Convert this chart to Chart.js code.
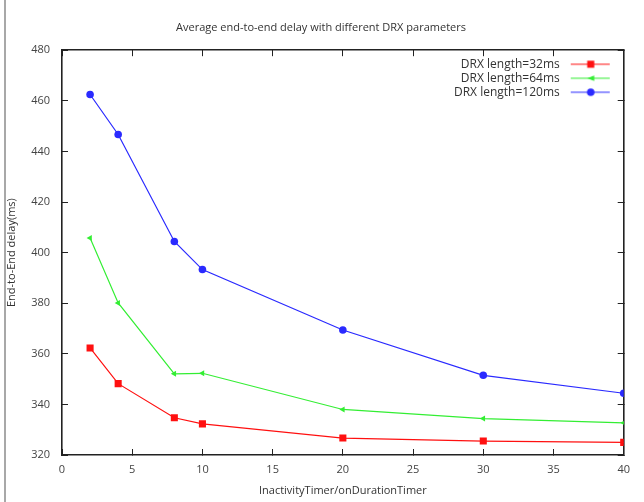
<!DOCTYPE html>
<html>
<head>
<meta charset="utf-8">
<script src="https://cdn.jsdelivr.net/npm/chart.js@4.4.1/dist/chart.umd.min.js"></script>
<style>
    html, body { margin: 0; padding: 0; background: #fff; }
    #wrap { position: relative; width: 644px; height: 502px; }
    #edge { position: absolute; left: 4px; top: 0; width: 2px; height: 502px; background: #a8a8a8; }
    canvas { position: absolute; left: 0; top: 0; }
</style>
</head>
<body>
<div id="wrap">
    <canvas id="delayChart" width="644" height="502"></canvas>
    <div id="edge"></div>
</div>
<script>
    // InactivityTimer/onDurationTimer values
    const timerValues = [2, 4, 8, 10, 20, 30, 40];

    // average end-to-end delay (ms) per DRX length
    const delay32 = [362.3, 348.2, 334.7, 332.3, 326.7, 325.5, 325.0];
    const delay64 = [405.8, 380.1, 352.1, 352.3, 338.0, 334.4, 332.7];
    const delay120 = [462.5, 446.7, 404.4, 393.3, 369.4, 351.5, 344.4];

    const seriesLabels = ['DRX length=32ms', 'DRX length=64ms', 'DRX length=120ms'];
    const xTicks = { min: 0, max: 40, step: 5 };
    const yTicks = { min: 320, max: 480, step: 20 };

    const fontFamily = "'Open Sans', 'DejaVu Sans', sans-serif";
    const colors = {
        red: '#ff1010',
        green: '#33ee33',
        blue: '#2a2aff',
        frame: '#222',
        text: '#444'
    };

    function toPoints(values) {
        return timerValues.map((t, i) => ({ x: t, y: values[i] }));
    }

    // legend sample: short line with the marker in the middle
    function legendSample(color, style, radius) {
        const c = document.createElement('canvas');
        c.width = 56;
        c.height = 12;
        const g = c.getContext('2d');
        g.strokeStyle = color;
        g.fillStyle = color;
        g.lineWidth = 1.2;
        g.beginPath();
        g.moveTo(5, 6);
        g.lineTo(44, 6);
        g.stroke();
        const cx = 25;
        g.beginPath();
        if (style === 'rect') {
            const s = radius * Math.SQRT1_2;
            g.rect(cx - s, 6 - s, s * 2, s * 2);
        } else if (style === 'triangle') {
            g.moveTo(cx - radius, 6);
            g.lineTo(cx + radius, 6 - radius * 0.8);
            g.lineTo(cx + radius, 6 + radius * 0.8);
            g.closePath();
        } else {
            g.arc(cx, 6, radius, 0, Math.PI * 2);
        }
        g.fill();
        return c;
    }

    // put the legend column inside the plot, top right
    const legendInPlot = {
        id: 'legendInPlot',
        afterLayout(chart) {
            const legend = chart.legend;
            const area = chart.chartArea;
            if (legend) {
                legend.left = area.left;
                legend.right = area.right;
                legend.width = area.right - area.left;
                legend.top = area.top;
                legend.bottom = area.bottom;
                legend.height = area.bottom - area.top;
            }
        }
    };

    const datasets = [
        { label: seriesLabels[0], data: toPoints(delay32), borderColor: colors.red, backgroundColor: colors.red, pointStyle: 'rect', pointRadius: 5 },
        { label: seriesLabels[1], data: toPoints(delay64), borderColor: colors.green, backgroundColor: colors.green, pointStyle: 'triangle', pointRadius: 3.5, pointRotation: -90 },
        { label: seriesLabels[2], data: toPoints(delay120), borderColor: colors.blue, backgroundColor: colors.blue, pointStyle: 'circle', pointRadius: 3.8 }
    ].map((ds) => Object.assign(ds, {
        borderWidth: 1.2,
        pointBorderWidth: 0,
        tension: 0,
        fill: false
    }));

    const samples = [
        legendSample(colors.red, 'rect', 5),
        legendSample(colors.green, 'triangle', 3.5),
        legendSample(colors.blue, 'circle', 3.8)
    ];

    // inward tick marks, frame drawn by the axis borders
    const frameGrid = { display: true, drawOnChartArea: false, drawTicks: true, tickLength: -6, color: colors.frame, lineWidth: 1 };
    const frameBorder = { display: true, color: colors.frame, width: 1.6 };
    const tickFont = { family: fontFamily, size: 11 };

    new Chart(document.getElementById('delayChart').getContext('2d'), {
        type: 'line',
        data: { datasets },
        plugins: [legendInPlot],
        options: {
            responsive: false,
            animation: false,
            layout: { padding: { top: 4, right: 2, bottom: 0, left: 0 } },
            plugins: {
                title: {
                    display: true,
                    text: 'Average end-to-end delay with different DRX parameters',
                    color: '#333',
                    font: { family: fontFamily, size: 11, weight: 'normal' },
                    padding: { top: 17, bottom: 16 }
                },
                legend: {
                    position: 'chartArea',
                    align: 'start',
                    rtl: true,
                    textDirection: 'ltr',
                    title: { display: true, text: '', font: { size: 5 }, padding: 0 },
                    labels: {
                        color: '#333',
                        font: { family: fontFamily, size: 12 },
                        usePointStyle: true,
                        pointStyleWidth: 56,
                        padding: 2,
                        generateLabels(chart) {
                            const items = Chart.defaults.plugins.legend.labels.generateLabels(chart);
                            items.forEach((item, i) => {
                                item.pointStyle = samples[i];
                                item.rotation = 0;
                            });
                            return items;
                        }
                    }
                },
                tooltip: { enabled: false }
            },
            scales: {
                x: {
                    type: 'linear',
                    position: 'bottom',
                    min: xTicks.min,
                    max: xTicks.max,
                    grid: frameGrid,
                    border: frameBorder,
                    ticks: { stepSize: xTicks.step, padding: 14, color: colors.text, font: tickFont },
                    title: {
                        display: true,
                        text: 'InactivityTimer/onDurationTimer',
                        color: '#333',
                        font: tickFont,
                        padding: { top: 4, bottom: 5 }
                    },
                    afterFit(scale) {
                        scale.height = 47;
                    }
                },
                x2: {
                    type: 'linear',
                    position: 'top',
                    min: xTicks.min,
                    max: xTicks.max,
                    grid: frameGrid,
                    border: frameBorder,
                    ticks: { stepSize: xTicks.step, display: false },
                    afterFit(scale) {
                        scale.height = 0;
                    }
                },
                y: {
                    type: 'linear',
                    position: 'left',
                    min: yTicks.min,
                    max: yTicks.max,
                    grid: frameGrid,
                    border: frameBorder,
                    ticks: { stepSize: yTicks.step, padding: 18, color: colors.text, font: tickFont },
                    title: {
                        display: true,
                        text: 'End-to-End delay(ms)',
                        color: '#333',
                        font: tickFont,
                        padding: { top: 5, bottom: 4 }
                    },
                    afterFit(scale) {
                        scale.width = 62;
                    }
                },
                y2: {
                    type: 'linear',
                    position: 'right',
                    min: yTicks.min,
                    max: yTicks.max,
                    grid: frameGrid,
                    border: frameBorder,
                    ticks: { stepSize: yTicks.step, display: false },
                    afterFit(scale) {
                        scale.width = 0;
                    }
                }
            }
        }
    });
</script>
</body>
</html>
